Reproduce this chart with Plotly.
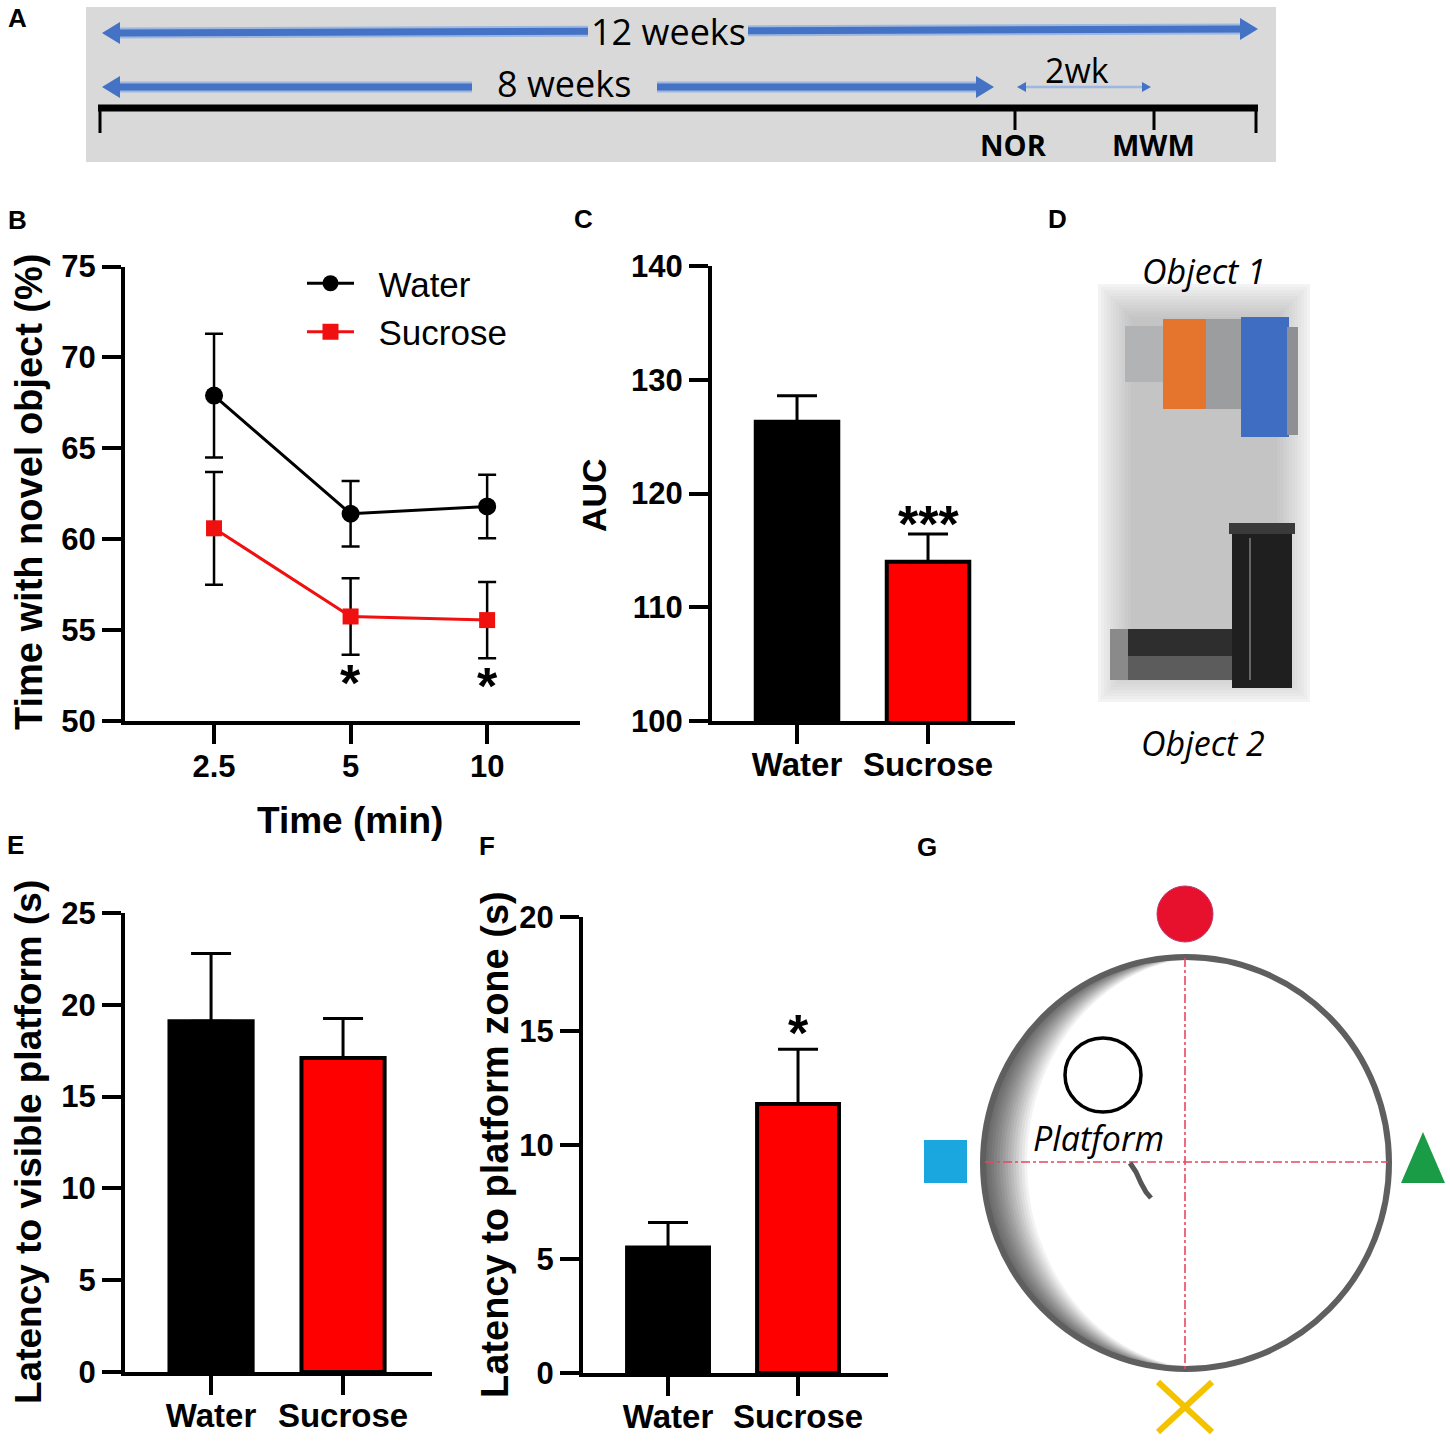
"""
Sucrose drinking and memory tests: NOR (B, C) and MWM (E, F) panels
with the timeline (A), object photo (D) and maze layout (G) sketched in shapes.
"""
import plotly.graph_objects as go

W, H = 1450, 1441

# ---- data ----
time_labels = ['2.5', '5', '10']
water_nor = [67.9, 61.4, 61.8]
water_nor_sem = [3.4, 1.8, 1.75]
sucrose_nor = [60.6, 55.75, 55.55]
sucrose_nor_sem = [3.1, 2.1, 2.1]

groups = ['Water', 'Sucrose']
auc_mean = [126.3, 114.0]
auc_sem = [2.3, 2.45]
visible_latency = [19.1, 17.1]
visible_latency_sem = [3.7, 2.15]
zone_latency = [5.5, 11.8]
zone_latency_sem = [1.1, 2.4]
bar_colors = ['#000000', '#ff0000']

FONT = 'Liberation Sans, Arial, sans-serif'
CAL = 'Open Sans, Lato, sans-serif'
NBSP = '\u00a0'


def px(x):
    return x / W


def py(y):
    return 1 - y / H


def axis_style(**kw):
    d = dict(showline=True, linewidth=4, linecolor='black', ticks='outside',
             ticklen=19, tickwidth=4, tickcolor='black', showgrid=False,
             zeroline=False, fixedrange=True, automargin=False,
             tickfont=dict(family=FONT, size=31, color='black', weight='bold'))
    d.update(kw)
    return d


def cat_axis(**kw):
    return axis_style(type='category', ticklabelstandoff=-8,
                      tickfont=dict(family=FONT, size=33, color='black', weight='bold'),
                      **kw)


def text(x, y, s, size, family=FONT, weight='normal', style='normal', angle=0, **kw):
    d = dict(x=px(x), y=py(y), xref='paper', yref='paper', text=s, showarrow=False,
             xanchor='center', yanchor='middle', textangle=angle,
             font=dict(family=family, size=size, color='black', weight=weight, style=style))
    d.update(kw)
    return d


def line(x0, y0, x1, y1, color, width, dash='solid'):
    return dict(type='line', xref='paper', yref='paper', x0=px(x0), y0=py(y0),
                x1=px(x1), y1=py(y1), line=dict(color=color, width=width, dash=dash))


def rect(x0, y0, x1, y1, color):
    return dict(type='rect', xref='paper', yref='paper', x0=px(x0), y0=py(y0),
                x1=px(x1), y1=py(y1), fillcolor=color, line=dict(width=0))


def ellipse(x0, y0, x1, y1, fill=None, lc=None, lw=0):
    return dict(type='circle', xref='paper', yref='paper', x0=px(x0), y0=py(y0),
                x1=px(x1), y1=py(y1), fillcolor=fill or 'rgba(0,0,0,0)',
                line=dict(color=lc or 'rgba(0,0,0,0)', width=lw))


def poly(points, fill=None, lc=None, lw=0, close=True):
    p = 'M ' + ' L '.join(f'{px(x):.5f},{py(y):.5f}' for x, y in points)
    if close:
        p += ' Z'
    return dict(type='path', xref='paper', yref='paper', path=p,
                fillcolor=fill or 'rgba(0,0,0,0)',
                line=dict(color=lc or 'rgba(0,0,0,0)', width=lw))


def head(xtip, y, direction, length, half, color):
    xb = xtip - direction * length
    return poly([(xtip, y), (xb, y - half), (xb, y + half)], fill=color)


def grey(v):
    v = int(round(v))
    return f'rgb({v},{v},{v})'


fig = go.Figure()

# ---- B: NOR time course ----
fig.add_trace(go.Scatter(
    x=time_labels, y=water_nor, mode='lines+markers', name=NBSP * 2 + 'Water',
    line=dict(color='black', width=3),
    marker=dict(symbol='circle', size=18, color='black'),
    error_y=dict(type='data', array=water_nor_sem, color='black', thickness=2.5, width=9),
    xaxis='x', yaxis='y'))
fig.add_trace(go.Scatter(
    x=time_labels, y=sucrose_nor, mode='lines+markers', name=NBSP * 2 + 'Sucrose',
    line=dict(color='#f01010', width=3),
    marker=dict(symbol='square', size=16, color='#f01010'),
    error_y=dict(type='data', array=sucrose_nor_sem, color='black', thickness=2.5, width=9),
    xaxis='x', yaxis='y'))

# ---- C, E, F: bar panels ----
for vals, sem, xa, ya in [(auc_mean, auc_sem, 'x2', 'y2'),
                          (visible_latency, visible_latency_sem, 'x3', 'y3'),
                          (zone_latency, zone_latency_sem, 'x4', 'y4')]:
    fig.add_trace(go.Bar(
        x=groups, y=vals, width=0.63, showlegend=False,
        marker=dict(color=bar_colors, line=dict(color='black', width=4)),
        error_y=dict(type='data', symmetric=False, array=sem, arrayminus=[0, 0],
                     color='black', thickness=3, width=20),
        xaxis=xa, yaxis=ya))

shapes = []

# ---- A: timeline ----
shapes.append(rect(86, 7, 1276, 162, '#d9d9d9'))
BLUE = '#4472c4'
GLOW = '#9db7e0'


def y12(x):
    return 33 + (29 - 33) * (x - 102) / (1258 - 102)


for a, b in [(116, 588), (748, 1244)]:
    shapes.append(line(a, y12(a), b, y12(b), GLOW, 11))
    shapes.append(line(a, y12(a), b, y12(b), BLUE, 7))
shapes.append(head(102, 33, -1, 18, 11, BLUE))
shapes.append(head(1258, 29, 1, 18, 11, BLUE))
for a, b in [(116, 472), (657, 980)]:
    shapes.append(line(a, 87, b, 87, GLOW, 11))
    shapes.append(line(a, 87, b, 87, BLUE, 7))
shapes.append(head(102, 87, -1, 18, 11, BLUE))
shapes.append(head(994, 87, 1, 18, 11, BLUE))
shapes.append(line(1024, 87, 1144, 87, GLOW, 2.5))
shapes.append(head(1017, 87, -1, 9, 5, BLUE))
shapes.append(head(1151, 87, 1, 9, 5, BLUE))
shapes.append(line(98, 108, 1258, 108, 'black', 7))
for xt, yb in [(100, 133), (1256, 133), (1015, 130), (1154, 130)]:
    shapes.append(line(xt, 108, xt, yb, 'black', 3))

# ---- D: object photo (sketched) ----
n_fade = 12
for k in range(n_fade):
    t = (k + 1) / n_fade
    shapes.append(rect(1098 + 3 * k, 284 + 3 * k, 1310 - 3 * k, 702 - 3 * k,
                       grey(250 - 54 * t ** 0.8)))
shapes.append(rect(1125, 326, 1164, 382, '#b2b3b5'))
shapes.append(rect(1163, 319, 1207, 409, '#e5752c'))
shapes.append(rect(1206, 319, 1246, 409, '#9b9d9f'))
shapes.append(rect(1241, 317, 1289, 437, '#3f6dc2'))
shapes.append(rect(1287, 327, 1298, 435, '#8e9093'))
shapes.append(rect(1110, 629, 1262, 656, '#2e2e2e'))
shapes.append(rect(1110, 656, 1262, 680, '#5c5c5c'))
shapes.append(rect(1110, 629, 1128, 680, '#8a8a8a'))
shapes.append(rect(1232, 523, 1292, 688, '#1f1f1f'))
shapes.append(rect(1229, 523, 1295, 534, '#3a3a3a'))
shapes.append(line(1250, 538, 1250, 680, '#666666', 2))

# ---- G: water maze layout ----
cx, cy, rx, ry = 1186, 1163, 203, 206
n_shade = 16
for k in range(n_shade + 1):
    t = k / n_shade
    d = 22 * t
    shapes.append(ellipse(cx - rx + 2 * d, cy - ry, cx + rx, cy + ry,
                          fill=grey(105 + 150 * t ** 1.3)))
shapes.append(ellipse(cx - rx, cy - ry, cx + rx, cy + ry, lc='#5f5f5f', lw=6))
shapes.append(line(1185, 958, 1185, 1369, '#e8475f', 1.6, 'dashdot'))
shapes.append(line(985, 1162, 1388, 1162, '#e8475f', 1.6, 'dashdot'))
shapes.append(ellipse(1065, 1038, 1141, 1112, lc='black', lw=3.5))
shapes.append(poly([(1130, 1163), (1136, 1172), (1141, 1183), (1146, 1192), (1151, 1198)],
                   lc='#555555', lw=5, close=False))
shapes.append(ellipse(1157, 886, 1213, 942, fill='#e8112d', lc='#b83a6e', lw=1))
shapes.append(rect(924, 1140, 967, 1183, '#1aa7df'))
shapes.append(poly([(1401, 1183), (1445, 1183), (1423, 1132)], fill='#1a9c47'))
shapes.append(line(1158, 1382, 1212, 1432, '#f4c300', 6))
shapes.append(line(1158, 1432, 1212, 1382, '#f4c300', 6))

annotations = [
    # panel letters
    text(17, 18, 'A', 26, weight='bold'),
    text(17, 220, 'B', 26, weight='bold'),
    text(583, 219, 'C', 26, weight='bold'),
    text(1057, 219, 'D', 26, weight='bold'),
    text(15, 845, 'E', 26, weight='bold'),
    text(487, 846, 'F', 26, weight='bold'),
    text(927, 847, 'G', 26, weight='bold'),
    # A
    text(668, 31, '12 weeks', 36, family=CAL),
    text(564, 83, '8 weeks', 36, family=CAL),
    text(1077, 70, '2wk', 34, family=CAL),
    text(1013, 145, 'NOR', 29, family=CAL, weight='bold'),
    text(1153, 145, 'MWM', 29, family=CAL, weight='bold'),
    # axis titles
    text(29, 492, 'Time with novel object (%)', 38, weight='bold', angle=-90),
    text(350, 820, 'Time (min)', 37, weight='bold'),
    text(594, 495, 'AUC', 34, weight='bold', angle=-90),
    text(28, 1142, 'Latency to visible platform (s)', 37, weight='bold', angle=-90),
    text(495, 1145, 'Latency to platform zone (s)', 38, weight='bold', angle=-90),
    # D / G labels
    text(1204, 271, 'Object 1', 34, family=CAL, style='italic'),
    text(1203, 743, 'Object 2', 34, family=CAL, style='italic'),
    text(1098, 1138, 'Platform', 34, family=CAL, style='italic'),
]

# significance marks (x given as category index)
for xv, yv, xa, ya, s in [(1, 52.1, 'x', 'y', '*'), (2, 51.9, 'x', 'y', '*'),
                          (1, 117.3, 'x2', 'y2', '***'),
                          (1, 14.9, 'x4', 'y4', '*')]:
    annotations.append(dict(x=xv, y=yv, xref=xa, yref=ya, text=s, showarrow=False,
                            yanchor='middle',
                            font=dict(family=FONT, size=52, color='black', weight='bold')))

fig.update_layout(
    width=W, height=H, autosize=False,
    margin=dict(l=0, r=0, t=0, b=0, pad=0),
    paper_bgcolor='white', plot_bgcolor='rgba(0,0,0,0)',
    font=dict(family=FONT, color='black'),
    showlegend=True,
    legend=dict(x=px(302), y=py(254), xanchor='left', yanchor='top',
                bgcolor='rgba(0,0,0,0)', font=dict(family=FONT, size=35, color='black'),
                itemwidth=47, tracegroupgap=0),
    xaxis=axis_style(domain=[px(125), px(580)], range=[-0.652, 2.68], type='category',
                     anchor='y', ticklabelstandoff=-4),
    yaxis=axis_style(domain=[py(721), py(266.5)], range=[50, 75], dtick=5, anchor='x'),
    xaxis2=cat_axis(domain=[px(712), px(1015)], range=[-0.649, 1.664], anchor='y2'),
    yaxis2=axis_style(domain=[py(721), py(266)], range=[100, 140], dtick=10, anchor='x2'),
    xaxis3=cat_axis(domain=[px(125), px(432)], range=[-0.652, 1.674], anchor='y3'),
    yaxis3=axis_style(domain=[py(1372), py(913)], range=[0, 25], dtick=5, anchor='x3'),
    xaxis4=cat_axis(domain=[px(583), px(888)], range=[-0.654, 1.692], anchor='y4'),
    yaxis4=axis_style(domain=[py(1373), py(917)], range=[0, 20], dtick=5, anchor='x4'),
    shapes=shapes,
    annotations=annotations,
)

fig.write_html("out.html", config={'displayModeBar': False},
               post_script="document.body.style.margin='0';")
